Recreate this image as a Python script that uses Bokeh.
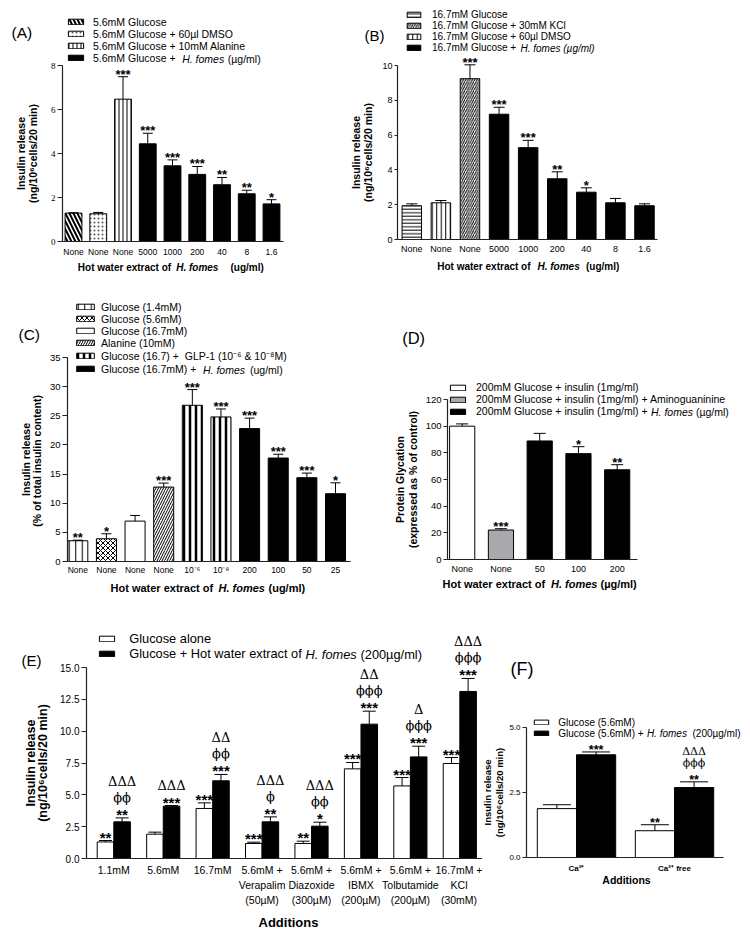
from bokeh.plotting import figure
from bokeh.models import (ColumnDataSource, Whisker, TeeHead, LabelSet, Label,
                          Legend, LegendItem, FixedTicker, Range1d)
from bokeh.layouts import row, column
from bokeh.embed import file_html
from bokeh.resources import INLINE
from bokeh.core.properties import value

SANS = "Liberation Sans"
SERIF = "Liberation Serif"
SYM = "DejaVu Serif"
INK = "#222222"

# ===================== DATA =====================
# (A)
a_ticks = ["None", "None", "None", "5000", "1000", "200", "40", "8", "1.6"]
a_mean = [1.29, 1.26, 6.47, 4.44, 3.44, 3.05, 2.58, 2.17, 1.71]
a_sem = [0.02, 0.06, 1.02, 0.48, 0.27, 0.36, 0.33, 0.16, 0.19]
a_sig = ["", "", "***", "***", "***", "***", "**", "**", "*"]
a_series = [0, 1, 2, 3, 3, 3, 3, 3, 3]
a_legend = ["5.6mM Glucose", "5.6mM Glucose + 60µl DMSO",
            "5.6mM Glucose + 10mM Alanine", "5.6mM Glucose + "]
a_yticks = [0, 2, 4, 6, 8]

# (B)
b_ticks = ["None", "None", "None", "5000", "1000", "200", "40", "8", "1.6"]
b_mean = [1.94, 2.11, 9.24, 7.20, 5.28, 3.49, 2.72, 2.11, 1.94]
b_sem = [0.11, 0.13, 0.80, 0.40, 0.42, 0.40, 0.25, 0.25, 0.11]
b_sig = ["", "", "***", "***", "***", "**", "*", "", ""]
b_series = [0, 2, 1, 3, 3, 3, 3, 3, 3]
b_legend = ["16.7mM Glucose", "16.7mM Glucose + 30mM KCl",
            "16.7mM Glucose + 60µl DMSO", "16.7mM Glucose + "]
b_yticks = [0, 2, 4, 6, 8, 10]

# (C)
c_ticks = ["None", "None", "None", "None", "10⁻⁶", "10⁻⁸", "200", "100", "50", "25"]
c_mean = [3.56, 3.90, 6.93, 12.77, 26.80, 24.80, 22.80, 17.75, 14.38, 11.63]
c_sem = [0.10, 0.86, 0.97, 0.68, 2.70, 1.37, 1.80, 0.65, 0.79, 1.87]
c_sig = ["**", "*", "", "***", "***", "***", "***", "***", "***", "*"]
c_series = [0, 1, 2, 3, 4, 4, 5, 5, 5, 5]
c_legend = ["Glucose (1.4mM)", "Glucose (5.6mM)", "Glucose (16.7mM)",
            "Alanine (10mM)", "Glucose (16.7) +  GLP-1 (10⁻⁶ & 10⁻⁸M)",
            "Glucose (16.7mM) + "]
c_yticks = [0, 5, 10, 15, 20, 25, 30, 35]

# (D)
d_ticks = ["None", "None", "50", "100", "200"]
d_mean = [100.0, 22.1, 88.9, 79.4, 67.3]
d_sem = [1.7, 1.0, 5.7, 5.2, 3.8]
d_sig = ["", "***", "", "*", "**"]
d_series = [0, 1, 2, 2, 2]
d_legend = ["200mM Glucose + insulin (1mg/ml)",
            "200mM Glucose + insulin (1mg/ml) + Aminoguaninine",
            "200mM Glucose + insulin (1mg/ml) + "]
d_yticks = [0, 20, 40, 60, 80, 100, 120]

# (E)
e_ticks = ["1.1mM", "5.6mM", "16.7mM", "5.6mM +\nVerapalim\n(50µM)",
           "5.6mM +\nDiazoxide\n(300µM)", "5.6mM +\nIBMX\n(200µM)",
           "5.6mM +\nTolbutamide\n(200µM)", "16.7mM +\nKCl\n(30mM)"]
e_alone_mean = [1.30, 1.91, 3.93, 1.18, 1.18, 7.04, 5.70, 7.46]
e_alone_sem = [0.11, 0.16, 0.44, 0.10, 0.18, 0.50, 0.66, 0.47]
e_alone_sig = ["**", "", "***", "***", "**", "***", "***", "***"]
e_hf_mean = [2.88, 4.11, 6.10, 2.88, 2.54, 10.55, 7.98, 13.12]
e_hf_sem = [0.31, 0.05, 0.50, 0.39, 0.31, 1.02, 0.84, 1.02]
e_hf_sig = ["**", "***", "***", "**", "*", "***", "***", "***"]
e_hf_phi = ["ϕϕ", "", "ϕϕ", "ϕ", "ϕϕ", "ϕϕϕ", "ϕϕϕ", "ϕϕϕ"]
e_hf_delta = ["ΔΔΔ", "ΔΔΔ", "ΔΔ", "ΔΔΔ", "ΔΔΔ", "ΔΔ", "Δ", "ΔΔΔ"]
e_legend = ["Glucose alone", "Glucose + Hot water extract of "]
e_yticks = [0, 2.5, 5, 7.5, 10, 12.5, 15]

# (F)
f_ticks = ["Ca²⁺", "Ca²⁺ free"]
f_alone_mean = [1.88, 1.03]
f_alone_sem = [0.15, 0.23]
f_alone_sig = ["", "**"]
f_hf_mean = [3.95, 2.69]
f_hf_sem = [0.11, 0.22]
f_hf_sig = ["***", "**"]
f_hf_phi = ["", "ϕϕϕ"]
f_hf_delta = ["", "ΔΔΔ"]
f_legend = ["Glucose (5.6mM)", "Glucose (5.6mM) + "]
f_yticks = [0, 2.5, 5]

# ===================== STYLES =====================
A_STYLES = [
    dict(fill_color="white", hatch_pattern="\\", hatch_scale=8, hatch_weight=2, hatch_color="black"),
    dict(fill_color="white", hatch_pattern=".", hatch_scale=4, hatch_weight=1, hatch_color="#555555"),
    dict(fill_color="white", hatch_pattern="|", hatch_scale=4, hatch_weight=1, hatch_color="black"),
    dict(fill_color="black"),
]
B_STYLES = [
    dict(fill_color="white", hatch_pattern="-", hatch_scale=3.5, hatch_weight=1, hatch_color="black"),
    dict(fill_color="white", hatch_pattern="/", hatch_scale=4.5, hatch_weight=1, hatch_color="black"),
    dict(fill_color="white", hatch_pattern="|", hatch_scale=4.5, hatch_weight=1, hatch_color="black"),
    dict(fill_color="black"),
]
C_STYLES = [
    dict(fill_color="white", hatch_pattern="|", hatch_scale=6.5, hatch_weight=1, hatch_color="black"),
    dict(fill_color="white", hatch_pattern="x", hatch_scale=5, hatch_weight=1, hatch_color="black"),
    dict(fill_color="white"),
    dict(fill_color="white", hatch_pattern="/", hatch_scale=5, hatch_weight=1, hatch_color="black"),
    dict(fill_color="white", hatch_pattern="|", hatch_scale=6, hatch_weight=2.5, hatch_color="black"),
    dict(fill_color="black"),
]
D_STYLES = [
    dict(fill_color="white"),
    dict(fill_color="#a9a9ad"),
    dict(fill_color="black"),
]


# ===================== HELPERS =====================
class Geo:
    """box: figure in page px; axes: (left, top, right, bottom) page px of the axis lines;
    xr/yr: data values at the axis-left/right and axis-bottom/top."""

    def __init__(self, box, axes, xr, yr):
        self.L, self.T, self.R, self.B = box
        self.fl, self.ft, self.fr, self.fb = axes
        self.x0, self.x1 = xr
        self.y0, self.y1 = yr

    def dx(self, px):
        return self.x0 + (px - self.fl) * (self.x1 - self.x0) / (self.fr - self.fl)

    def dy(self, py):
        return self.y0 + (self.fb - py) * (self.y1 - self.y0) / (self.fb - self.ft)


def cat_range(fl, fr, c0, c1, n):
    step = (c1 - c0) / (n - 1)
    return (-(c0 - fl) / step, (n - 1) + (fr - c1) / step)


def new_fig(g):
    p = figure(width=g.R - g.L, height=g.B - g.T,
               x_range=Range1d(g.dx(g.L), g.dx(g.R)), y_range=Range1d(g.dy(g.B), g.dy(g.T)),
               output_backend="svg", toolbar_location=None,
               min_border_left=0, min_border_right=0,
               min_border_top=0, min_border_bottom=0)
    p.grid.visible = False
    p.outline_line_color = None
    p.background_fill_color = "white"
    p.border_fill_color = "white"
    return p


def style_axes(p, g, xlabels, yticks, xfs, yfs, yfont=SANS, tick_out=4,
               xstandoff=5, xstyle="normal", yfmt=None, x_lh=1.2):
    xa = p.xaxis[0]
    xa.fixed_location = g.y0
    xa.bounds = (g.x0, g.x1)
    xa.ticker = FixedTicker(ticks=list(range(len(xlabels))))
    xa.major_label_overrides = {i: s for i, s in enumerate(xlabels)}
    xa.major_tick_line_color = None
    xa.minor_tick_line_color = None
    xa.major_tick_out = 0
    xa.major_tick_in = 0
    xa.major_label_standoff = xstandoff
    xa.major_label_text_font = SANS
    xa.major_label_text_font_size = f"{xfs}px"
    xa.major_label_text_font_style = xstyle
    xa.major_label_text_line_height = x_lh
    xa.major_label_text_color = "black"
    xa.axis_line_color = INK
    xa.axis_line_width = 1.2
    ya = p.yaxis[0]
    ya.fixed_location = g.x0
    ya.bounds = (g.y0, g.y1)
    ya.ticker = FixedTicker(ticks=yticks)
    if yfmt:
        ya.major_label_overrides = {t: yfmt.format(t) for t in yticks}
    ya.minor_tick_line_color = None
    ya.major_tick_in = 0
    ya.major_tick_out = tick_out
    ya.major_tick_line_color = INK
    ya.major_tick_line_width = 1.2
    ya.axis_line_color = INK
    ya.axis_line_width = 1.2
    ya.major_label_standoff = 2
    ya.major_label_text_font = yfont
    ya.major_label_text_font_size = f"{yfs}px"
    ya.major_label_text_color = "black"


def add_err(p, xs, tops, sems, cap, lw=1):
    src = ColumnDataSource(dict(x=xs, lo=tops, hi=[t + s for t, s in zip(tops, sems)]))
    p.add_layout(Whisker(base="x", lower="lo", upper="hi", source=src, dimension="height",
                         line_color="black", line_width=lw, lower_head=None,
                         upper_head=TeeHead(size=cap, line_color="black", line_width=lw),
                         level="annotation"))


def add_marks(p, xs, ys, texts, size, font=SANS, style="bold", yoff=-2):
    src = ColumnDataSource(dict(x=xs, y=ys, t=texts))
    p.add_layout(LabelSet(x="x", y="y", text="t", source=src, text_align="center",
                          text_baseline="alphabetic", text_font=value(font),
                          text_font_size=f"{size}px", text_font_style=style,
                          y_offset=yoff, text_color="black"))


def label(p, g, px, py, text, size, style="normal", font=SANS, align="left",
          baseline="middle", angle=0):
    p.add_layout(Label(x=g.dx(px), y=g.dy(py), text=text, text_font=font,
                       text_font_size=f"{size}px", text_font_style=style,
                       text_align=align, text_baseline=baseline, angle=angle,
                       angle_units="deg", text_color="black"))


def add_legend(p, g, rends, labels, gx, rows, gw, gh, standoff, fs):
    items = [LegendItem(label=value(t), renderers=[r]) for t, r in zip(labels, rends)]
    pitch = (rows[-1] - rows[0]) / (len(rows) - 1)
    lh = int(round(pitch))
    leg = Legend(items=items, location=(gx - g.L, g.B - (rows[-1] + lh / 2)),
                 orientation="vertical", padding=0, margin=0, spacing=0,
                 glyph_width=int(round(gw)), glyph_height=gh, label_height=lh,
                 label_standoff=int(round(standoff)), label_text_font=SANS,
                 label_text_font_size=f"{fs}px", border_line_color=None,
                 background_fill_alpha=0.0, label_text_color="black")
    p.add_layout(leg)


def simple_panel(g, ticks, mean, sem, sig, series, styles, bar_w, cap, star_fs):
    p = new_fig(g)
    xs = list(range(len(ticks)))
    rends = []
    for k, st in enumerate(styles):
        idx = [i for i, s in enumerate(series) if s == k]
        src = ColumnDataSource(dict(x=[xs[i] for i in idx], top=[mean[i] for i in idx]))
        r = p.vbar(x="x", top="top", bottom=0, width=bar_w, source=src,
                   line_color="black", line_width=1, **st)
        rends.append(r)
    add_err(p, xs, mean, sem, cap)
    add_marks(p, xs, [m + s for m, s in zip(mean, sem)], sig, star_fs)
    return p, rends


def stack_levels(phis, deltas):
    l2, l3 = [], []
    for ph, dl in zip(phis, deltas):
        st = [t for t in (ph, dl) if t]
        l2.append(st[0] if len(st) > 0 else "")
        l3.append(st[1] if len(st) > 1 else "")
    return l2, l3


ROW2_BOTTOM = 597

# ===================== PANEL A =====================
gA = Geo((0, 0, 348, 300), (62, 65, 283, 241),
         cat_range(62, 283, 73, 271, len(a_ticks)), (0, 8))
pA, rA = simple_panel(gA, a_ticks, a_mean, a_sem, a_sig, a_series, A_STYLES, 0.68, 10, 13)
style_axes(pA, gA, a_ticks, a_yticks, 8.5, 9, yfont=SERIF, tick_out=5, xstandoff=5)
add_legend(pA, gA, rA, a_legend, 66, [25, 36, 47, 58], 19, 7, 8, 10.5)
label(pA, gA, 181.7, 58, "H. fomes", 10.5, "italic")
label(pA, gA, 227.3, 58, "(µg/ml)", 10.5)
label(pA, gA, 11, 32.3, "(A)", 15.5)
label(pA, gA, 20.5, 153, "Insulin release", 10.5, "bold", align="center", angle=90)
label(pA, gA, 32.5, 153, "(ng/10⁶cells/20 min)", 10.5, "bold", align="center", angle=90)
label(pA, gA, 77.3, 266.7, "Hot water extract of", 10, "bold")
label(pA, gA, 175.7, 266.7, "H. fomes", 10, "bold italic")
label(pA, gA, 230, 266.7, "(ug/ml)", 10, "bold")

# ===================== PANEL B =====================
gB = Geo((348, 0, 750, 300), (397, 65, 657, 239),
         cat_range(397, 657, 411.3, 644, len(b_ticks)), (0, 10))
pB, rB = simple_panel(gB, b_ticks, b_mean, b_sem, b_sig, b_series, B_STYLES, 0.67, 11, 13)
style_axes(pB, gB, b_ticks, b_yticks, 9, 9, tick_out=3, xstandoff=4)
add_legend(pB, gB, rB, b_legend, 405, [15, 25.5, 36.5, 47.5], 17, 7, 10, 10)
label(pB, gB, 520, 47.5, "H. fomes (µg/ml)", 10, "italic")
label(pB, gB, 364, 35, "(B)", 15)
label(pB, gB, 355.5, 152, "Insulin release", 10.5, "bold", align="center", angle=90)
label(pB, gB, 367.5, 152, "(ng/10⁶cells/20 min)", 10.5, "bold", align="center", angle=90)
label(pB, gB, 436.7, 266, "Hot water  extract of", 10, "bold")
label(pB, gB, 537, 266, "H. fomes", 10, "bold italic")
label(pB, gB, 585.5, 266, "(ug/ml)", 10, "bold")

# ===================== PANEL C =====================
gC = Geo((0, 300, 355, ROW2_BOTTOM), (67, 357, 350, 561),
         cat_range(67, 350, 77.3, 335, len(c_ticks)), (0, 35))
pC, rC = simple_panel(gC, c_ticks, c_mean, c_sem, c_sig, c_series, C_STYLES, 0.7, 10, 13)
style_axes(pC, gC, c_ticks, c_yticks, 8.5, 9.5, tick_out=5, xstandoff=3)
add_legend(pC, gC, rC, c_legend, 74, [315, 325.8, 336.6, 347.4, 358.2, 369], 22, 7, 5, 10.5)
label(pC, gC, 202.5, 369, "H. fomes", 10.5, "italic")
label(pC, gC, 249.5, 369, "(ug/ml)", 10.5)
label(pC, gC, 18, 334.3, "(C)", 15.5)
label(pC, gC, 25, 459, "Insulin release", 10.5, "bold", align="center", angle=90)
label(pC, gC, 36.7, 459, "(% of total  insulin content)", 10.5, "bold", align="center", angle=90)
label(pC, gC, 110, 587, "Hot water extract of", 11, "bold")
label(pC, gC, 218, 587, "H. fomes", 11, "bold italic")
label(pC, gC, 268, 587, "(ug/ml)", 11, "bold")

# ===================== PANEL D =====================
gD = Geo((355, 300, 750, ROW2_BOTTOM), (447, 399, 637, 559),
         cat_range(447, 637, 461.7, 616.7, len(d_ticks)), (0, 120))
pD, rD = simple_panel(gD, d_ticks, d_mean, d_sem, d_sig, d_series, D_STYLES, 0.65, 12, 13)
style_axes(pD, gD, d_ticks, d_yticks, 9, 9.5, tick_out=4, xstandoff=4)
add_legend(pD, gD, rD, d_legend, 448, [387.7, 399.3, 411], 19, 7, 9, 10.5)
label(pD, gD, 650.5, 411, "H. fomes", 10.5, "italic")
label(pD, gD, 695.4, 411, "(µg/ml)", 10.5)
label(pD, gD, 401.7, 337.3, "(D)", 16.5)
label(pD, gD, 399, 479, "Protein Glycation", 10.5, "bold", align="center", angle=90)
label(pD, gD, 412.7, 479, "(expressed as % of control)", 10.5, "bold", align="center", angle=90)
label(pD, gD, 442, 583, "Hot water extract of", 11, "bold")
label(pD, gD, 550.5, 583, "H. fomes", 11, "bold italic")
label(pD, gD, 600, 583, "(µg/ml)", 11, "bold")

# ===================== PANEL E =====================
E_STEP = 49.43
gE = Geo((0, ROW2_BOTTOM, 482, 934), (86, 667, 482, 858),
         (-(113.3 - 86) / E_STEP, (482 - 113.3) / E_STEP), (0, 15))
pE = new_fig(gE)
E_OFF, E_W = 0.168, 0.335
ex = list(range(len(e_ticks)))
exw = [x - E_OFF for x in ex]
exb = [x + E_OFF for x in ex]
rEw = pE.vbar(x=exw, top=e_alone_mean, bottom=0, width=E_W, fill_color="white",
              line_color="black", line_width=1)
rEb = pE.vbar(x=exb, top=e_hf_mean, bottom=0, width=E_W, fill_color="black",
              line_color="black", line_width=1)
add_err(pE, exw, e_alone_mean, e_alone_sem, 13)
add_err(pE, exb, e_hf_mean, e_hf_sem, 13)
e_top_w = [m + s for m, s in zip(e_alone_mean, e_alone_sem)]
e_top_b = [m + s for m, s in zip(e_hf_mean, e_hf_sem)]
add_marks(pE, exw, e_top_w, e_alone_sig, 15)
add_marks(pE, exb, e_top_b, e_hf_sig, 15)
e_l2, e_l3 = stack_levels(e_hf_phi, e_hf_delta)
add_marks(pE, exb, e_top_b, e_l2, 13, font=SYM, style="normal", yoff=16)
add_marks(pE, exb, e_top_b, e_l3, 13, font=SYM, style="normal", yoff=32)
style_axes(pE, gE, e_ticks, e_yticks, 10.5, 10, tick_out=5, xstandoff=5, yfmt="{:.1f}", x_lh=1.27)
add_legend(pE, gE, [rEw, rEb], e_legend, 97.3, [640.7, 654], 19, 7, 12.6, 12.8)
label(pE, gE, 305, 654, "H. fomes", 12.8, "italic")
label(pE, gE, 360, 654, "(200µg/ml)", 12.8)
label(pE, gE, 21, 660, "(E)", 15)
label(pE, gE, 30, 762.5, "Insulin release", 12.5, "bold", align="center", angle=90)
label(pE, gE, 42, 762.5, "(ng/10⁶cells/20 min)", 12.5, "bold", align="center", angle=90)
label(pE, gE, 288, 921.7, "Additions", 13, "bold", align="center")

# ===================== PANEL F =====================
F_STEP = 98.0
gF = Geo((482, ROW2_BOTTOM, 750, 934), (526, 727, 723, 857),
         (-(576 - 526) / F_STEP, 1 + (723 - 674) / F_STEP), (0, 5))
pF = new_fig(gF)
F_OFF, F_W = 0.2, 0.4
fx = list(range(len(f_ticks)))
fxw = [x - F_OFF for x in fx]
fxb = [x + F_OFF for x in fx]
rFw = pF.vbar(x=fxw, top=f_alone_mean, bottom=0, width=F_W, fill_color="white",
              line_color="black", line_width=1)
rFb = pF.vbar(x=fxb, top=f_hf_mean, bottom=0, width=F_W, fill_color="black",
              line_color="black", line_width=1)
add_err(pF, fxw, f_alone_mean, f_alone_sem, 28)
add_err(pF, fxb, f_hf_mean, f_hf_sem, 28)
f_top_w = [m + s for m, s in zip(f_alone_mean, f_alone_sem)]
f_top_b = [m + s for m, s in zip(f_hf_mean, f_hf_sem)]
add_marks(pF, fxw, f_top_w, f_alone_sig, 12.5)
add_marks(pF, fxb, f_top_b, f_hf_sig, 12.5)
f_l2, f_l3 = stack_levels(f_hf_phi, f_hf_delta)
add_marks(pF, fxb, f_top_b, f_l2, 11, font=SYM, style="normal", yoff=15)
add_marks(pF, fxb, f_top_b, f_l3, 11, font=SYM, style="normal", yoff=27)
style_axes(pF, gF, f_ticks, f_yticks, 8, 8, tick_out=4, xstandoff=6, xstyle="bold", yfmt="{:.1f}")
add_legend(pF, gF, [rFw, rFb], f_legend, 532.3, [722.7, 733.3], 18, 6, 8, 10)
label(pF, gF, 646.4, 733.3, "H. fomes", 10, "italic")
label(pF, gF, 692, 733.3, "(200µg/ml)", 10)
label(pF, gF, 510, 668.3, "(F)", 18)
label(pF, gF, 487, 792, "Insulin release", 9.5, "bold", align="center", angle=90)
label(pF, gF, 499, 792, "(ng/10⁶cells/20 min)", 9.5, "bold", align="center", angle=90)
label(pF, gF, 626, 879.3, "Additions", 10.5, "bold", align="center")

layout = column(row(pA, pB), row(pC, pD), row(pE, pF))
open("out.html", "w").write(file_html(layout, INLINE))
